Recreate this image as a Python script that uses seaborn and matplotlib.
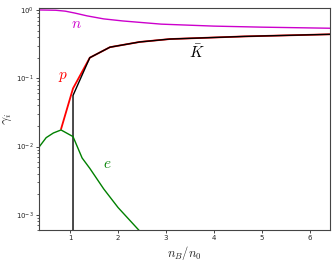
import numpy as np
import pandas as pd
import matplotlib
matplotlib.use("Agg")
import matplotlib.pyplot as plt
import seaborn as sns

# neutron fraction
x_n = [0.35, 0.7, 0.9, 1.1, 1.35, 1.7, 2.1, 2.9, 4.0, 5.0, 6.42]
y_n = [1.0, 0.99, 0.96, 0.9, 0.82, 0.74, 0.69, 0.62, 0.58, 0.56, 0.54]
# proton fraction
x_p = [0.81, 1.06, 1.41, 1.83, 2.45, 3.08, 4.64, 6.42]
y_p = [0.018, 0.071, 0.2, 0.285, 0.34, 0.375, 0.41, 0.44]
# kaon condensate (starts at threshold)
x_k = [1.06, 1.06, 1.41, 1.83, 2.45, 3.08, 4.64, 6.42]
y_k = [1e-5, 0.056, 0.2, 0.285, 0.34, 0.375, 0.41, 0.44]
# electron fraction
x_e = [0.35, 0.5, 0.65, 0.81, 1.06, 1.25, 1.41, 1.7, 2.0, 2.45]
y_e = [0.0098, 0.0135, 0.0158, 0.0175, 0.014, 0.0068, 0.0048, 0.0024, 0.00128, 0.00058]

sns.set_style("ticks")
plt.rcParams["mathtext.fontset"] = "cm"

fig = plt.figure(figsize=(3.36, 2.65), dpi=100)
ax = fig.add_axes([0.116, 0.132, 0.866, 0.838])

kw = dict(ax=ax, sort=False, estimator=None)
sns.lineplot(x=x_n, y=y_n, color="#cc00cc", lw=1, **kw)
sns.lineplot(x=x_p, y=y_p, color="red", lw=1.3, **kw)
sns.lineplot(x=x_k, y=y_k, color="black", lw=1, **kw)
sns.lineplot(x=x_e, y=y_e, color="green", lw=1, **kw)

ax.set_yscale("log")
ax.set_xlim(0.35, 6.42)
ax.set_ylim(6e-4, 1.07)
ax.set_xticks([1, 2, 3, 4, 5, 6])
ax.tick_params(labelsize=5, length=2, width=0.6, pad=1.5)
ax.tick_params(which="minor", length=1.2, width=0.5)
for s in ax.spines.values():
    s.set_linewidth(0.8)
    s.set_color("#444444")

ax.set_xlabel(r"$n_B/n_0$", fontsize=9, labelpad=2)
ax.set_ylabel(r"$\gamma_i$", fontsize=10)
ax.yaxis.set_label_coords(-0.085, 0.5)

ax.text(1.14, 0.64, r"$n$", color="#cc00cc", fontsize=11, ha="center", va="center")
ax.text(0.85, 0.107, r"$p$", color="red", fontsize=11, ha="center", va="center")
ax.text(3.64, 0.24, r"$\bar{K}$", color="black", fontsize=11, ha="center", va="center")
ax.text(1.77, 0.0056, r"$e$", color="green", fontsize=11, ha="center", va="center")

fig.savefig("out.png", dpi=100)
